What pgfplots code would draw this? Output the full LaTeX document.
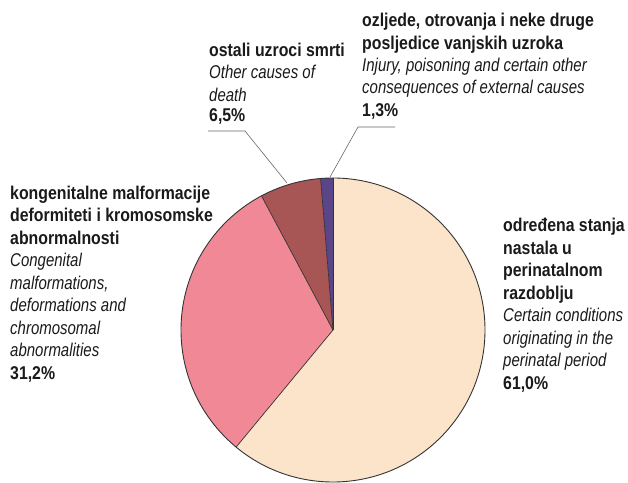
\documentclass[border=0pt]{standalone}
\usepackage{fontspec}
\setmainfont{Liberation Sans}[FakeStretch=0.85,
  BoldFeatures={FakeStretch=0.857},
  ItalicFeatures={FakeStretch=0.81}]
\usepackage{pgfplots}
\pgfplotsset{compat=1.18}
\definecolor{cream}{HTML}{FBE4C9}
\definecolor{pinkc}{HTML}{F08995}
\definecolor{brownc}{HTML}{A85555}
\definecolor{purplec}{HTML}{5B4589}
\definecolor{txt}{HTML}{1A1A1A}
\newcommand\PR{152bp}
\tikzset{lb/.style={anchor=base west, inner sep=0pt, text=txt, font=\fontsize{18.5bp}{20bp}\selectfont\bfseries},
         li/.style={anchor=base west, inner sep=0pt, text=txt, font=\fontsize{18.5bp}{20bp}\selectfont\itshape}}
\begin{document}
\begin{tikzpicture}
\begin{axis}[
  width=628bp, height=483bp, scale only axis,
  xmin=0, xmax=628, ymin=0, ymax=483,
  hide axis, clip=false,
]
\path (axis cs:0,0) rectangle (axis cs:628,483);
% values (%): 61.0, 31.2, 6.5, 1.3 ; clockwise from the top
\fill[cream] (axis cs:333,153) -- ++(90:\PR) arc[start angle=90, end angle={90-61.0*3.6}, radius=\PR] -- cycle;
\fill[pinkc] (axis cs:333,153) -- ++({90-61.0*3.6}:\PR) arc[start angle={90-61.0*3.6}, end angle={90-(61.0+31.2)*3.6}, radius=\PR] -- cycle;
\fill[brownc] (axis cs:333,153) -- ++({90-(61.0+31.2)*3.6}:\PR) arc[start angle={90-(61.0+31.2)*3.6}, end angle={90-(61.0+31.2+6.5)*3.6}, radius=\PR] -- cycle;
\fill[purplec] (axis cs:333,153) -- ++({90-(61.0+31.2+6.5)*3.6}:\PR) arc[start angle={90-(61.0+31.2+6.5)*3.6}, end angle={90-(61.0+31.2+6.5+1.3)*3.6}, radius=\PR] -- cycle;
\draw[black!80, line width=0.7pt] (axis cs:333,153) -- ++(90:\PR);
\draw[black!80, line width=0.7pt] (axis cs:333,153) -- ++({90-61.0*3.6}:\PR);
\draw[black!80, line width=0.7pt] (axis cs:333,153) -- ++({90-(61.0+31.2)*3.6}:\PR);
\draw[black!80, line width=0.7pt] (axis cs:333,153) -- ++({90-(61.0+31.2+6.5)*3.6}:\PR);
\draw[black!80, line width=0.9pt] (axis cs:333,153) circle[radius=\PR];
% leader lines
\draw[black!60, line width=0.6pt] (axis cs:208,352) -- (axis cs:245,352) -- (axis cs:287,300);
\draw[black!60, line width=0.6pt] (axis cs:395,356) -- (axis cs:358,356) -- (axis cs:330,306);
% left
\node[lb] at (axis cs:10,283) {kongenitalne malformacije};
\node[lb] at (axis cs:10,261) {deformiteti i kromosomske};
\node[lb] at (axis cs:10,238) {abnormalnosti};
\node[li] at (axis cs:10,216) {Congenital};
\node[li] at (axis cs:10,193) {malformations,};
\node[li] at (axis cs:10,171) {deformations and};
\node[li] at (axis cs:10,148) {chromosomal};
\node[li] at (axis cs:10,126) {abnormalities};
\node[lb] at (axis cs:10,103) {31,2\%};
% right
\node[lb] at (axis cs:503,251) {određena stanja};
\node[lb] at (axis cs:503,228) {nastala u};
\node[lb] at (axis cs:503,206) {perinatalnom};
\node[lb] at (axis cs:503,183) {razdoblju};
\node[li] at (axis cs:503,161) {Certain conditions};
\node[li] at (axis cs:503,138) {originating in the};
\node[li] at (axis cs:503,116) {perinatal period};
\node[lb] at (axis cs:503,93) {61,0\%};
% top middle
\node[lb] at (axis cs:209,426) {ostali uzroci smrti};
\node[li] at (axis cs:209,404) {Other causes of};
\node[li] at (axis cs:209,381) {death};
\node[lb] at (axis cs:209,361) {6,5\%};
% top right
\node[lb] at (axis cs:362,456) {ozljede, otrovanja i neke druge};
\node[lb] at (axis cs:362,433) {posljedice vanjskih uzroka};
\node[li] at (axis cs:362,411) {Injury, poisoning and certain other};
\node[li] at (axis cs:362,389) {consequences of external causes};
\node[lb] at (axis cs:362,366) {1,3\%};
\end{axis}
\end{tikzpicture}
\end{document}
